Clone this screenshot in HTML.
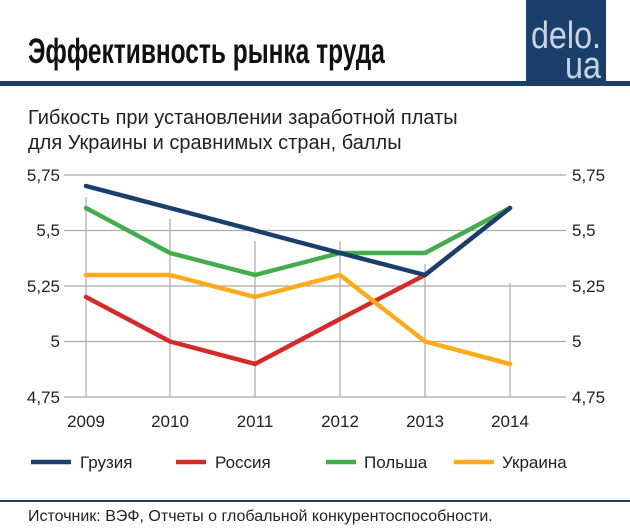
<!DOCTYPE html>
<html><head><meta charset="utf-8"><style>
body{margin:0;background:#fff;}
svg text{font-family:"Liberation Sans",sans-serif;}
</style></head><body>
<svg width="630" height="527" xmlns="http://www.w3.org/2000/svg">
<rect width="630" height="527" fill="#fff"/>
<text x="40" y="63" font-size="35" font-weight="bold" fill="#111" transform="scale(0.7,1)">Эффективность рынка труда</text>
<rect x="0" y="81" width="630" height="5" fill="#1b3f6b"/>
<rect x="526" y="0" width="80" height="84" fill="#1b3f6b"/>
<text x="566" y="48" font-size="38" fill="#c9d4e3" text-anchor="middle" transform="translate(566,0) scale(0.85,1) translate(-566,0)">delo.</text>
<text x="583" y="78" font-size="38" fill="#c9d4e3" text-anchor="middle" transform="translate(583,0) scale(0.85,1) translate(-583,0)">ua</text>
<text x="28" y="124" font-size="20" fill="#222">Гибкость при установлении заработной платы</text>
<text x="28" y="149" font-size="20" fill="#222">для Украины и сравнимых стран, баллы</text>
<g stroke="#aaa" stroke-width="1.2">
<line x1="64" y1="175" x2="566" y2="175"/>
<line x1="64" y1="230.5" x2="566" y2="230.5"/>
<line x1="64" y1="286" x2="566" y2="286"/>
<line x1="64" y1="341.5" x2="566" y2="341.5"/>
<line x1="64" y1="397" x2="566" y2="397"/>
<line x1="86" y1="197" x2="86" y2="397"/>
<line x1="170" y1="219" x2="170" y2="397"/>
<line x1="255" y1="241" x2="255" y2="397"/>
<line x1="340" y1="241" x2="340" y2="397"/>
<line x1="425" y1="264" x2="425" y2="397"/>
<line x1="510" y1="283" x2="510" y2="397"/>
</g>
<g font-size="17" fill="#222">
<text x="60" y="181" text-anchor="end">5,75</text>
<text x="60" y="236" text-anchor="end">5,5</text>
<text x="60" y="292" text-anchor="end">5,25</text>
<text x="60" y="347" text-anchor="end">5</text>
<text x="60" y="403" text-anchor="end">4,75</text>
<text x="572" y="181">5,75</text>
<text x="572" y="236">5,5</text>
<text x="572" y="292">5,25</text>
<text x="572" y="347">5</text>
<text x="572" y="403">4,75</text>
<g text-anchor="middle">
<text x="86" y="427">2009</text><text x="170" y="427">2010</text><text x="255" y="427">2011</text>
<text x="340" y="427">2012</text><text x="425" y="427">2013</text><text x="510" y="427">2014</text>
</g></g>
<g fill="none" stroke-width="4.5" stroke-linejoin="round" stroke-linecap="round">
<polyline stroke="#d62a2a" points="86,297 170,341.5 255,364 340,319 425,275 510,208"/>
<polyline stroke="#fdab1a" points="86,275 170,275 255,297 340,275 425,341.5 510,364"/>
<polyline stroke="#43ad4b" points="86,208 170,253 255,275 340,253 425,253 510,208"/>
<polyline stroke="#1b3f6b" points="86,186 170,208 255,230.5 340,253 425,275 510,208"/>
</g>
<g stroke-width="4.5">
<line x1="31" y1="462" x2="71" y2="462" stroke="#1b3f6b"/>
<line x1="176" y1="462" x2="206" y2="462" stroke="#d62a2a"/>
<line x1="326" y1="462" x2="356" y2="462" stroke="#43ad4b"/>
<line x1="454" y1="462" x2="494" y2="462" stroke="#fdab1a"/>
</g>
<g font-size="17" fill="#222">
<text x="80" y="468">Грузия</text>
<text x="215" y="468">Россия</text>
<text x="364" y="468">Польша</text>
<text x="502" y="468">Украина</text>
</g>
<rect x="0" y="500" width="630" height="2" fill="#1b3f6b"/>
<text x="28" y="521" font-size="16" fill="#222">Источник: ВЭФ, Отчеты о глобальной конкурентоспособности.</text>
</svg>
</body></html>
